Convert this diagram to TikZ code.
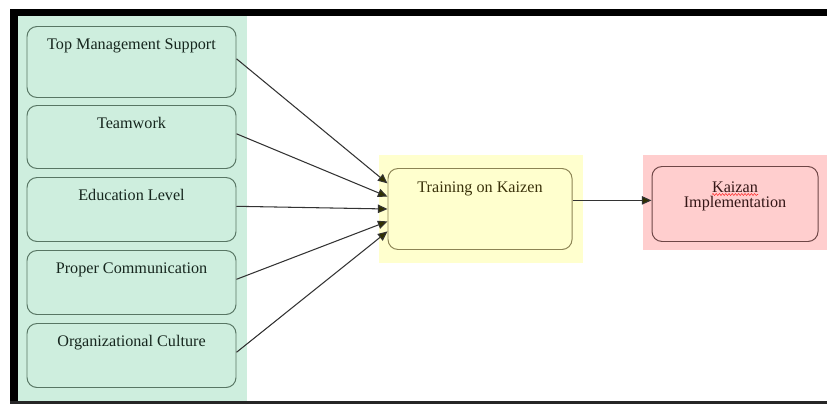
\documentclass[tikz,border=0pt]{standalone}
\usepackage{fontspec}
\setmainfont{Liberation Serif}
\usetikzlibrary{arrows.meta,decorations.pathmorphing}

\definecolor{bandgreen}{RGB}{206,238,222}
\definecolor{linegreen}{RGB}{88,118,100}
\definecolor{textgreen}{RGB}{22,38,30}
\definecolor{bandyellow}{RGB}{255,255,206}
\definecolor{lineyellow}{RGB}{140,132,84}
\definecolor{textyellow}{RGB}{58,50,10}
\definecolor{bandpink}{RGB}{255,206,206}
\definecolor{linepink}{RGB}{110,70,70}
\definecolor{textpink}{RGB}{52,22,22}
\definecolor{tipolive}{RGB}{48,48,0}

\def\px{0.025cm}

\begin{document}
\begin{tikzpicture}[x=\px, y=-\px, font=\fontsize{11.5}{15}\selectfont]
    \tikzstyle{box}=[draw, rounded corners=0.25cm, inner xsep=0pt, inner ysep=0pt, line width=0.7pt, anchor=north]
    \tikzstyle{factor}=[box, fill=bandgreen, draw=linegreen, text=textgreen, minimum width=209*\px, text height=23*\px]
    \tikzstyle{training}=[box, fill=bandyellow, draw=lineyellow, text=textyellow, minimum width=184*\px, text height=24*\px, text depth=57*\px]
    \tikzstyle{outcome}=[box, fill=bandpink, draw=linepink, text=textpink, minimum width=166*\px, text height=41*\px, text depth=34*\px, align=center, font=\fontsize{11.5}{10.8}\selectfont]
    \tikzstyle{arr}=[draw=black!80, line width=0.75pt, -{Triangle[length=0.24cm, width=0.21cm, fill=tipolive]}]

    \useasboundingbox (0,0) rectangle (827,404);

    % frame
    \fill[black] (10,9) rectangle (827,16);
    \fill[black] (10,9) rectangle (18,404);
    \fill[black!85] (10,401) rectangle (827,404);

    % bands
    \fill[bandgreen] (18,16) rectangle (247,401);
    \fill[bandyellow] (379,155) rectangle (583,263);
    \fill[bandpink] (643,155) rectangle (827,250);

    \foreach \name / \top / \d / \label in {1/26/48/Top Management Support, 2/105/40/Teamwork,
        3/177/41/Education Level, 4/250/41/Proper Communication, 5/323/41/Organizational Culture}
        \node[factor, text depth=\d*\px] (F-\name) at (131.5,\top) {\label};

    \node[training] (T) at (480,168) {Training on Kaizen};
    \node[outcome] (K) at (735,166) {Kaizan\\Implementation};

    % spelling squiggle
    \draw[red!80, line width=0.4pt, decorate, decoration={snake, amplitude=0.025cm, segment length=0.08cm}]
        (712,194.5) -- (758,194.5);

    \foreach \source / \dy in {1/0.64, 2/0.31, 3/0, 4/-0.31, 5/-0.56}
        \draw[arr] ([yshift=0.08cm]F-\source.east) -- ([yshift=\dy cm]T.west);

    \draw[arr] ([yshift=0.09cm]T.east |- K.west) -- ([yshift=0.09cm]K.west);
\end{tikzpicture}
\end{document}
